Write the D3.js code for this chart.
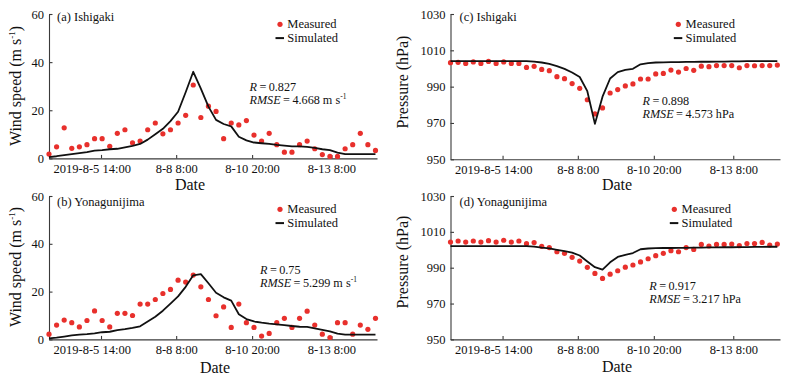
<!DOCTYPE html>
<html>
<head>
<meta charset="utf-8">
<script src="https://cdn.jsdelivr.net/npm/d3@7/dist/d3.min.js"></script>
<style>
    body { margin: 0; background: #fff; }
    svg { display: block; font-family: "Liberation Serif", "Times New Roman", serif; }
    svg text { font-family: "Liberation Serif", "Times New Roman", serif; }
</style>
</head>
<body>
<svg id="chart" width="789" height="381"></svg>
<script>
(function () {
    'use strict';

    // x ticks sit between samples (6-hourly samples, index based)
    var tickLabels = ['2019-8-5 14:00', '8-8 8:00', '8-10 20:00', '8-13 8:00'];
    var tickIdx = [6.85, 16.75, 26.75, 37.2];

    var windTicks = [0, 20, 40, 60];
    var pressTicks = [950, 970, 990, 1010, 1030];

    // (a) Ishigaki wind speed
    var windIshiMeasured = [1.8, 4.8, 12.7, 4.2, 4.8, 5.7, 8.2, 8.2, 5.0, 10.4, 11.9, 6.5, 7.2, 11.9, 14.7, 10.2, 11.9, 14.7, 17.9, 30.5, 17.0, 21.7,
        19.5, 8.2, 14.7, 13.9, 15.7, 9.7, 7.2, 10.4, 5.7, 2.6, 2.6, 5.7, 7.2, 4.0, 1.6, 0.8, 0.8, 4.0, 5.7, 10.4, 5.7, 3.3];
    var windIshiSimulated = [0.5, 0.9, 1.4, 1.8, 2.2, 2.6, 3.2, 3.4, 3.8, 4.0, 4.6, 5.2, 6.0, 7.8, 10.0, 12.3, 15.5, 19.4, 27.5, 36.0, 29.0, 21.5,
        16.0, 14.3, 13.3, 9.0, 7.5, 6.6, 6.3, 6.0, 5.6, 5.3, 5.0, 5.0, 4.8, 4.4, 3.8, 3.4, 2.4, 1.8, 1.8, 1.8, 1.8, 1.8];

    // (b) Yonagunijima wind speed
    var windYonaMeasured = [2.2, 6.0, 8.1, 7.0, 5.2, 7.9, 11.9, 7.9, 5.2, 10.9, 10.9, 10.0, 14.8, 14.8, 16.7, 19.2, 20.9, 24.8, 24.0, 26.9, 22.0, 16.7,
        9.9, 13.6, 5.0, 14.8, 7.0, 5.0, 1.4, 2.5, 7.0, 8.8, 5.0, 8.8, 11.8, 6.0, 2.2, 0.8, 7.0, 7.0, 2.2, 6.0, 4.2, 8.8];
    var windYonaSimulated = [0.4, 0.7, 1.2, 1.7, 2.0, 2.2, 2.5, 3.0, 3.2, 3.9, 4.3, 4.8, 5.5, 7.5, 9.5, 12.0, 15.0, 18.0, 22.0, 26.8, 27.3, 23.5,
        19.5, 17.6, 16.2, 10.5, 8.5, 7.5, 7.0, 6.6, 6.3, 6.0, 5.6, 5.3, 5.2, 4.6, 4.0, 3.4, 2.4, 2.0, 2.0, 2.0, 2.0, 2.0];

    // (c) Ishigaki pressure
    var pressIshiMeasured = [1003.2, 1003.4, 1002.8, 1003.6, 1002.8, 1003.9, 1002.8, 1003.6, 1002.8, 1002.8, 1000.6, 1001.2, 999.5, 998.8, 995.5,
        994.4, 991.7, 989.1, 982.8, 975.0, 978.3, 986.5, 988.4, 990.4, 991.5, 994.2, 994.2, 997.0, 997.3, 999.1, 998.0, 1000.0, 999.0, 1001.3,
        1001.0, 1001.6, 1001.6, 1001.6, 1000.4, 1001.6, 1001.5, 1001.6, 1001.6, 1001.9];
    var pressIshiSimulated = [1004.0, 1004.0, 1004.0, 1004.0, 1004.0, 1004.0, 1004.0, 1004.0, 1004.0, 1004.0, 1004.0, 1003.8, 1003.3, 1002.5,
        1001.3, 999.8, 997.8, 995.3, 987.5, 969.5, 984.5, 994.5, 998.0, 999.2, 999.8, 1002.3, 1003.0, 1003.3, 1003.4, 1003.5, 1003.5, 1003.6,
        1003.6, 1003.7, 1003.7, 1003.8, 1003.8, 1003.9, 1003.9, 1004.0, 1004.0, 1004.0, 1004.0, 1004.1];

    // (d) Yonagunijima pressure
    var pressYonaMeasured = [1004.3, 1004.9, 1004.3, 1004.9, 1004.3, 1005.1, 1004.3, 1005.3, 1004.3, 1004.9, 1003.4, 1004.0, 1001.9, 1001.2,
        998.9, 998.0, 995.8, 993.7, 990.2, 986.8, 984.0, 986.4, 988.3, 990.3, 991.5, 993.2, 995.0, 996.7, 998.0, 999.5, 998.9, 1001.2, 1000.2,
        1003.0, 1002.1, 1003.0, 1003.0, 1003.2, 1002.3, 1003.5, 1003.5, 1004.1, 1002.6, 1003.2];
    var pressYonaSimulated = [1002.0, 1002.0, 1002.0, 1002.0, 1002.0, 1002.0, 1002.0, 1002.0, 1002.0, 1002.0, 1002.0, 1001.8, 1001.2, 1000.8,
        1000.0, 999.2, 998.4, 996.8, 993.5, 990.3, 988.9, 993.0, 996.0, 997.2, 998.2, 1000.3, 1000.7, 1000.9, 1001.0, 1001.0, 1001.1, 1001.1,
        1001.2, 1001.2, 1001.3, 1001.3, 1001.4, 1001.4, 1001.5, 1001.5, 1001.6, 1001.6, 1001.7, 1001.7];

    var RED = '#e8302c';
    var AXIS = '#3a3a3a';

    var panels = [
        {
            title: '(a) Ishigaki', measured: windIshiMeasured, simulated: windIshiSimulated,
            yDomain: [0, 60], yTicks: windTicks, yLabel: 'wind',
            R: '0.827', rmse: '4.668', unit: 'ms',
            xr: [49, 377], xMax: 43.2, yr: [158.4, 14],
            titleX: 57, titleY: 21, legX: 280, legY: 24.3, statX: 249.5, statY: 91,
            ylabX: 21, ylabY: 86, dateX: 190, dateY: 189.5
        },
        {
            title: '(b) Yonagunijima', measured: windYonaMeasured, simulated: windYonaSimulated,
            yDomain: [0, 60], yTicks: windTicks, yLabel: 'wind',
            R: '0.75', rmse: '5.299', unit: 'ms',
            xr: [49, 377], xMax: 43.2, yr: [339.4, 196],
            titleX: 57, titleY: 206, legX: 280, legY: 209.3, statX: 260, statY: 274,
            ylabX: 21, ylabY: 267, dateX: 215, dateY: 372.5
        },
        {
            title: '(c) Ishigaki', measured: pressIshiMeasured, simulated: pressIshiSimulated,
            yDomain: [950, 1030], yTicks: pressTicks, yLabel: 'press',
            R: '0.898', rmse: '4.573', unit: 'hPa',
            xr: [450.5, 780], xMax: 43.35, yr: [159.3, 14],
            titleX: 459.5, titleY: 21, legX: 678.3, legY: 24.3, statX: 642.5, statY: 105,
            ylabX: 408, ylabY: 82, dateX: 617, dateY: 189.5
        },
        {
            title: '(d) Yonagunijima', measured: pressYonaMeasured, simulated: pressYonaSimulated,
            yDomain: [950, 1030], yTicks: pressTicks, yLabel: 'press',
            R: '0.917', rmse: '3.217', unit: 'hPa',
            xr: [450.5, 780], xMax: 43.35, yr: [339.4, 196],
            titleX: 459.5, titleY: 206, legX: 674.3, legY: 209.3, statX: 649.3, statY: 290,
            ylabX: 408, ylabY: 262, dateX: 617, dateY: 372
        }
    ];

    var svg = d3.select('#chart');
    svg.append('rect').attr('width', 789).attr('height', 381).attr('fill', '#fff');

    function styleAxis(sel) {
        sel.attr('font-family', null).attr('font-size', null);
        sel.select('.domain').attr('stroke', AXIS).attr('stroke-width', 1.1);
        sel.selectAll('.tick line').attr('stroke', AXIS).attr('stroke-width', 1.1);
        sel.selectAll('.tick text').attr('fill', '#111').style('font-size', '12.5px');
    }

    function drawPanel(p) {
        var g = svg.append('g');

        var x = d3.scaleLinear().domain([0, p.xMax]).range(p.xr);
        var y = d3.scaleLinear().domain(p.yDomain).range(p.yr);

        var xAxis = d3.axisBottom(x)
            .tickValues(tickIdx)
            .tickFormat(function (d, i) { return tickLabels[i]; })
            .tickSizeInner(-3.5)
            .tickSizeOuter(0)
            .tickPadding(6);
        var gx = g.append('g')
            .attr('transform', 'translate(0,' + p.yr[0] + ')')
            .call(xAxis);
        styleAxis(gx);
        // first label starts right at the axis origin
        gx.selectAll('.tick text')
            .filter(function (d, i) { return i === 0; })
            .attr('text-anchor', 'start')
            .attr('x', p.xr[0] + 4 - x(tickIdx[0]));

        var yAxis = d3.axisLeft(y)
            .tickValues(p.yTicks)
            .tickFormat(d3.format('d'))
            .tickSizeInner(-3.5)
            .tickSizeOuter(0)
            .tickPadding(5);
        var gy = g.append('g')
            .attr('transform', 'translate(' + p.xr[0] + ',0)')
            .call(yAxis);
        styleAxis(gy);

        // measured dots
        g.append('g').selectAll('circle')
            .data(p.measured).enter()
            .append('circle')
            .attr('cx', function (d, i) { return x(i); })
            .attr('cy', function (d) { return y(d); })
            .attr('r', 2.6)
            .attr('fill', RED);

        // simulated line
        var line = d3.line()
            .x(function (d, i) { return x(i); })
            .y(function (d) { return y(d); });
        g.append('path')
            .datum(p.simulated)
            .attr('d', line)
            .attr('fill', 'none')
            .attr('stroke', '#111')
            .attr('stroke-width', 1.8)
            .attr('stroke-linejoin', 'round');

        // panel title
        g.append('text')
            .attr('x', p.titleX).attr('y', p.titleY)
            .style('font-size', '12.5px').attr('fill', '#111')
            .text(p.title);

        // legend
        g.append('circle')
            .attr('cx', p.legX).attr('cy', p.legY)
            .attr('r', 2.6).attr('fill', RED);
        g.append('text')
            .attr('x', p.legX + 7.3).attr('y', p.legY + 4)
            .style('font-size', '12.5px').attr('fill', '#111')
            .text('Measured');
        g.append('line')
            .attr('x1', p.legX - 4.5).attr('x2', p.legX + 4)
            .attr('y1', p.legY + 13.8).attr('y2', p.legY + 13.8)
            .attr('stroke', '#111').attr('stroke-width', 2);
        g.append('text')
            .attr('x', p.legX + 7.3).attr('y', p.legY + 17.4)
            .style('font-size', '12.5px').attr('fill', '#111')
            .text('Simulated');

        // R and RMSE
        var st = g.append('g').style('font-size', '12.2px').attr('fill', '#111');
        var t1 = st.append('text').attr('x', p.statX).attr('y', p.statY);
        t1.append('tspan').style('font-style', 'italic').text('R');
        t1.append('tspan').text('\u2009=\u2009' + p.R);
        var t2 = st.append('text').attr('x', p.statX).attr('y', p.statY + 12.7);
        t2.append('tspan').style('font-style', 'italic').text('RMSE');
        if (p.unit === 'ms') {
            t2.append('tspan').text('\u2009=\u2009' + p.rmse + ' m s');
            t2.append('tspan').attr('dy', -4.5).style('font-size', '7.5px').text('-1');
        } else {
            t2.append('tspan').text('\u2009=\u2009' + p.rmse + ' hPa');
        }

        // axis titles
        var yl = g.append('text')
            .attr('transform', 'translate(' + p.ylabX + ',' + p.ylabY + ') rotate(-90)')
            .attr('text-anchor', 'middle')
            .style('font-size', '16px').attr('fill', '#111');
        if (p.yLabel === 'wind') {
            yl.append('tspan').text('Wind speed (m s');
            yl.append('tspan').attr('dy', -6).style('font-size', '9px').text('-1');
            yl.append('tspan').attr('dy', 6).text(')');
        } else {
            yl.text('Pressure (hPa)');
        }

        g.append('text')
            .attr('x', p.dateX).attr('y', p.dateY)
            .attr('text-anchor', 'middle')
            .style('font-size', '16px').attr('fill', '#111')
            .text('Date');
    }

    panels.forEach(drawPanel);
})();
</script>
</body>
</html>
